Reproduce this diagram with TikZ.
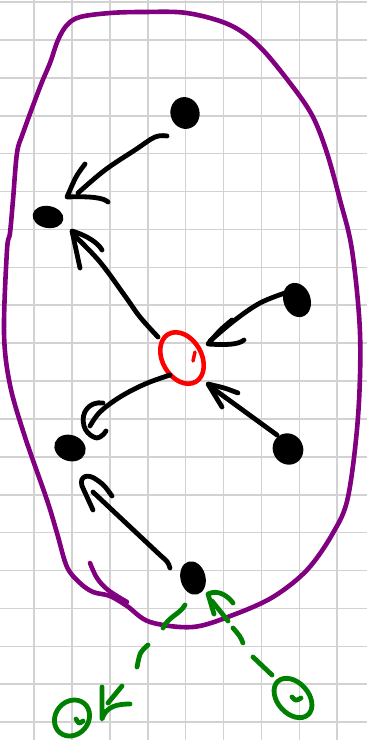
\documentclass[tikz,border=0pt]{standalone}
\usetikzlibrary{shapes.geometric}
\definecolor{pur}{RGB}{128,0,128}
\definecolor{grn}{RGB}{0,128,0}
\definecolor{gridc}{RGB}{210,210,210}
\begin{document}
\begin{tikzpicture}[x=1pt,y=-1pt,line cap=round,line join=round,
  dot/.style={ellipse,fill=black,inner sep=0pt,draw=none},
  stroke/.style={line width=4.8pt,black},
  gstroke/.style={line width=4.8pt,grn},
  loopg/.style={ellipse,draw=grn,line width=4.8pt,inner sep=0pt},
  gridline/.style={gridc,line width=1.6pt}]
\useasboundingbox (0,0) rectangle (367,740);
\fill[white] (0,0) rectangle (367,740);
% grid paper
\foreach \i in {1,...,9} \draw[gridline] ({-3.9+37.9*\i},0) -- ({-3.9+37.9*\i},740);
\foreach \j in {0,...,19} \draw[gridline] (0,{2+37.9*\j}) -- (367,{2+37.9*\j});
% purple outline
\draw[pur,line width=4.6pt] plot[smooth cycle,tension=0.55] coordinates {
 (110,13) (143,12) (187,13) (230,25) (260,47) (293,87) (313,117) (327,153)
 (340,200) (352,250) (360,333) (358,417) (348,497) (333,533) (307,570)
 (273,597) (233,615) (193,627) (150,622) (127,606) (110,596) (93,592)
 (80,583) (67,567) (57,533) (47,500) (25,437) (10,385) (4,333) (7,250)
 (10,233) (13,200) (17,153) (23,133) (40,87) (50,63) (58,40) (67,25) (80,17)};
\draw[pur,line width=4.6pt] plot[smooth,tension=0.6] coordinates {(90,563) (97,578) (108,590) (127,602)};
% dots
\node[dot,minimum width=29pt,minimum height=32pt,rotate=15] (d1) at (185,113) {};
\node[dot,minimum width=31pt,minimum height=22pt,rotate=-10] (d2) at (48,217) {};
\node[dot,minimum width=27pt,minimum height=35pt,rotate=20] (d3) at (297,300) {};
\node[dot,minimum width=30pt,minimum height=32pt,rotate=35] (d4) at (288,449) {};
\node[dot,minimum width=32pt,minimum height=26pt,rotate=-20] (d5) at (70,448) {};
\node[dot,minimum width=25pt,minimum height=34pt,rotate=15] (d6) at (193,578) {};
% red centre
\node[ellipse,draw=red,line width=4.6pt,inner sep=0pt,minimum width=39pt,minimum height=55pt,rotate=30] (r) at (182,358) {};
\draw[red,line width=3.5pt] (195,352) -- (193,361);
% arrow d1 -> d2
\coordinate (a1s) at (167,136); \coordinate (a1t) at (67,197);
\draw[stroke] plot[smooth,tension=0.6] coordinates {(a1s) (155,137) (135,150) (105,170) (78,193)};
\draw[stroke] (85,164) .. controls (76,176) .. (a1t) .. controls (92,196) and (104,198) .. (108,202);
% arrow r -> d2
\coordinate (a2s) at (158,337); \coordinate (a2t) at (72,231);
\draw[stroke] plot[smooth,tension=0.6] coordinates {(a2s) (140,317) (125,296) (100,262) (75,236)};
\draw[stroke] (80,268) -- (a2t) .. controls (88,236) and (98,243) .. (102,250);
% arrow d3 -> r
\coordinate (a3s) at (285,293); \coordinate (a3t) at (208,344);
\draw[stroke] plot[smooth,tension=0.6] coordinates {(a3s) (260,303) (235,320) (210,341)};
\draw[stroke] (232,320) .. controls (220,330) .. (a3t) .. controls (225,345) and (238,345) .. (244,340);
% arrow r -> d5
\coordinate (a4s) at (170,375); \coordinate (a4t) at (90,426);
\draw[stroke] plot[smooth,tension=0.6] coordinates {(a4s) (145,384) (120,397) (100,412) (a4t)};
\draw[stroke] (103,403) .. controls (90,401) and (80,412) .. (84,426) .. controls (87,436) and (98,440) .. (100,437) .. controls (104,434) .. (106,431);
% arrow d4 -> r
\coordinate (a5s) at (277,435); \coordinate (a5t) at (208,384);
\draw[stroke] (a5s) -- (211,387);
\draw[stroke] (238,393) .. controls (225,388) .. (a5t) -- (222,407);
% arrow d6 -> d5
\coordinate (a6s) at (170,568); \coordinate (a6t) at (85,480);
\draw[stroke] (a6s) .. controls (168,562) .. (160,555) -- (93,492);
\draw[stroke] (93,510) -- (82,486) .. controls (79,476) and (88,473) .. (97,480) .. controls (104,485) .. (112,496);
% green dashed arrow d6 -> left loop
\node[loopg,minimum width=33pt,minimum height=38pt,rotate=-40] (g1) at (72,718) {};
\draw[gstroke] (76,719) .. controls (79,724) .. (83,721);
\draw[gstroke] (185,605) .. controls (180,614) and (168,617) .. (163,628);
\draw[gstroke] (148,645) .. controls (140,652) .. (137,667);
\coordinate (g1t) at (102,719);
\draw[gstroke] (102,687) -- (g1t) .. controls (106,706) and (118,704) .. (130,704);
\draw[gstroke] (122,686) -- (108,703);
% green dashed arrow right loop -> d6
\node[loopg,minimum width=31pt,minimum height=45pt,rotate=42] (g2) at (293,698) {};
\draw[gstroke] (292,697) .. controls (296,701) .. (301,698);
\draw[gstroke] (272,675) -- (253,657);
\draw[gstroke] (243,643) .. controls (240,636) .. (233,628);
\draw[gstroke] (228,621) -- (212,601);
\coordinate (g2t) at (208,594);
\draw[gstroke] (214,614) -- (g2t) .. controls (218,589) and (228,596) .. (233,603);
\end{tikzpicture}
\end{document}
